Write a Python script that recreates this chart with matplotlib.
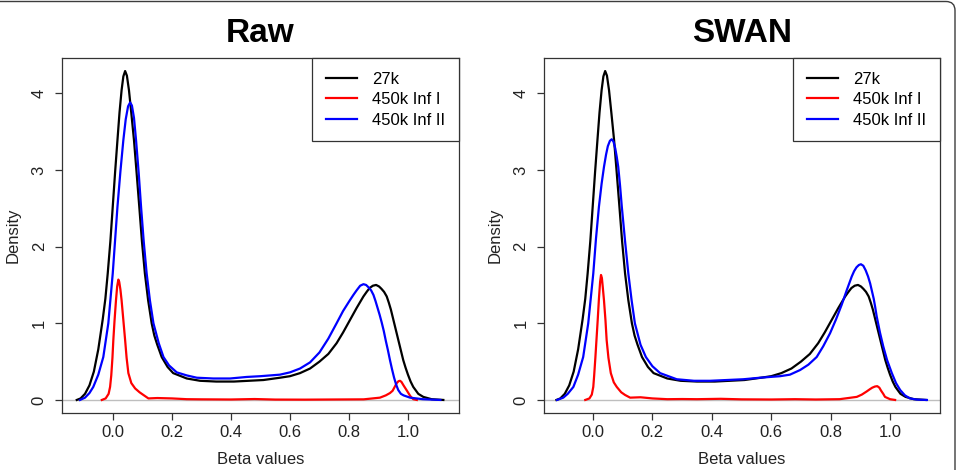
import matplotlib
matplotlib.use("Agg")
import matplotlib.pyplot as plt
from matplotlib.patches import FancyBboxPatch

plt.rcParams['font.family'] = ['Liberation Sans', 'DejaVu Sans']

# --- densities (beta value, density) ---
x_27k = [-0.123, -0.110, -0.095, -0.080, -0.065, -0.050, -0.035, -0.026, -0.018, -0.009,
         -0.001, 0.007, 0.015, 0.022, 0.029, 0.035, 0.041, 0.047, 0.054, 0.062,
         0.071, 0.080, 0.089, 0.098, 0.108, 0.119, 0.131, 0.140, 0.150, 0.165,
         0.185, 0.204, 0.25, 0.295, 0.35, 0.41, 0.46, 0.51, 0.566, 0.60,
         0.634, 0.668, 0.70, 0.73, 0.758, 0.78, 0.803, 0.826, 0.849, 0.860,
         0.870, 0.881, 0.892, 0.902, 0.910, 0.919, 0.928, 0.935, 0.942, 0.949,
         0.956, 0.963, 0.970, 0.977, 0.984, 0.992, 1.000, 1.009, 1.018, 1.035,
         1.052, 1.08, 1.12]
y_27k = [0.00, 0.02, 0.08, 0.19, 0.37, 0.66, 1.05, 1.32, 1.65, 2.07,
         2.52, 2.97, 3.39, 3.75, 4.04, 4.22, 4.29, 4.23, 4.04, 3.74,
         3.39, 2.96, 2.52, 2.07, 1.65, 1.30, 1.00, 0.84, 0.72, 0.56,
         0.43, 0.35, 0.28, 0.25, 0.24, 0.24, 0.25, 0.26, 0.29, 0.31,
         0.35, 0.41, 0.50, 0.60, 0.74, 0.88, 1.04, 1.20, 1.35, 1.41,
         1.46, 1.49, 1.50, 1.48, 1.45, 1.41, 1.35, 1.27, 1.18, 1.07,
         0.96, 0.85, 0.74, 0.63, 0.52, 0.42, 0.33, 0.24, 0.17, 0.08,
         0.04, 0.01, 0.00]

x_raw_inf1 = [-0.038, -0.025, -0.015, -0.010, -0.006, -0.002, 0.001, 0.005, 0.010, 0.014,
              0.018, 0.021, 0.025, 0.029, 0.035, 0.041, 0.046, 0.052, 0.062, 0.075,
              0.090, 0.103, 0.12, 0.15, 0.20, 0.25, 0.30, 0.40, 0.48, 0.55,
              0.65, 0.75, 0.85, 0.905, 0.925, 0.939, 0.948, 0.955, 0.962, 0.968,
              0.973, 0.978, 0.985, 0.995, 1.008, 1.018, 1.03]
y_raw_inf1 = [0.00, 0.02, 0.08, 0.17, 0.32, 0.55, 0.78, 1.03, 1.30, 1.48,
              1.57, 1.54, 1.44, 1.30, 1.04, 0.78, 0.55, 0.35, 0.22, 0.15,
              0.10, 0.065, 0.02, 0.025, 0.02, 0.01, 0.008, 0.006, 0.012, 0.005,
              0.004, 0.006, 0.008, 0.03, 0.06, 0.09, 0.12, 0.17, 0.22, 0.245,
              0.25, 0.235, 0.19, 0.13, 0.05, 0.01, 0.00]

x_raw_inf2 = [-0.112, -0.095, -0.080, -0.067, -0.050, -0.033, -0.016, -0.001, 0.015, 0.025,
              0.035, 0.043, 0.051, 0.058, 0.064, 0.071, 0.078, 0.087, 0.095, 0.104,
              0.114, 0.125, 0.137, 0.155, 0.171, 0.19, 0.216, 0.25, 0.284, 0.34,
              0.397, 0.453, 0.50, 0.566, 0.60, 0.634, 0.668, 0.70, 0.73, 0.758,
              0.78, 0.803, 0.815, 0.826, 0.838, 0.849, 0.858, 0.866, 0.875, 0.883,
              0.890, 0.897, 0.904, 0.911, 0.918, 0.925, 0.932, 0.939, 0.946, 0.953,
              0.960, 0.967, 0.976, 0.985, 1.007, 1.05, 1.11]
y_raw_inf2 = [0.00, 0.03, 0.09, 0.17, 0.33, 0.56, 1.00, 1.65, 2.52, 2.98,
              3.39, 3.66, 3.83, 3.88, 3.84, 3.68, 3.39, 2.96, 2.52, 2.07,
              1.65, 1.30, 1.00, 0.74, 0.56, 0.45, 0.36, 0.32, 0.29, 0.28,
              0.28, 0.30, 0.31, 0.33, 0.36, 0.41, 0.49, 0.62, 0.80, 1.00,
              1.16, 1.30, 1.37, 1.43, 1.49, 1.51, 1.50, 1.47, 1.43, 1.37,
              1.29, 1.20, 1.11, 1.01, 0.90, 0.77, 0.65, 0.52, 0.40, 0.29,
              0.20, 0.13, 0.08, 0.06, 0.03, 0.01, 0.00]

x_swan_inf1 = [-0.026, -0.012, -0.004, 0.001, 0.004, 0.008, 0.012, 0.016, 0.020, 0.024,
               0.027, 0.030, 0.033, 0.037, 0.042, 0.046, 0.052, 0.060, 0.070, 0.080,
               0.095, 0.108, 0.125, 0.16, 0.20, 0.25, 0.30, 0.35, 0.43, 0.50,
               0.60, 0.68, 0.75, 0.83, 0.888, 0.905, 0.921, 0.932, 0.940, 0.949,
               0.957, 0.964, 0.970, 0.977, 0.983, 1.000, 1.017]
y_swan_inf1 = [0.00, 0.02, 0.07, 0.17, 0.32, 0.55, 0.80, 1.05, 1.32, 1.54,
               1.63, 1.59, 1.47, 1.30, 1.04, 0.78, 0.55, 0.35, 0.23, 0.17,
               0.10, 0.065, 0.03, 0.035, 0.02, 0.01, 0.012, 0.01, 0.015, 0.008,
               0.006, 0.01, 0.006, 0.01, 0.04, 0.07, 0.11, 0.14, 0.16, 0.175,
               0.18, 0.16, 0.12, 0.08, 0.04, 0.01, 0.00]

x_swan_inf2 = [-0.121, -0.100, -0.085, -0.066, -0.050, -0.033, -0.016, 0.001, 0.010, 0.020,
               0.029, 0.037, 0.044, 0.050, 0.057, 0.063, 0.069, 0.075, 0.080, 0.085,
               0.091, 0.097, 0.108, 0.119, 0.130, 0.141, 0.160, 0.178, 0.20, 0.226,
               0.282, 0.34, 0.394, 0.45, 0.506, 0.562, 0.630, 0.663, 0.697, 0.725,
               0.753, 0.775, 0.798, 0.818, 0.837, 0.855, 0.871, 0.879, 0.887, 0.895,
               0.902, 0.910, 0.918, 0.926, 0.933, 0.939, 0.945, 0.950, 0.955, 0.966,
               0.977, 0.990, 1.006, 1.020, 1.034, 1.050, 1.067, 1.09, 1.124]
y_swan_inf2 = [0.00, 0.03, 0.08, 0.17, 0.33, 0.56, 1.00, 1.65, 2.10, 2.52,
               2.82, 3.04, 3.20, 3.31, 3.38, 3.40, 3.37, 3.28, 3.17, 3.04,
               2.80, 2.52, 2.07, 1.65, 1.30, 1.00, 0.72, 0.56, 0.44, 0.35,
               0.27, 0.25, 0.25, 0.26, 0.27, 0.29, 0.31, 0.33, 0.39, 0.46,
               0.56, 0.70, 0.87, 1.05, 1.24, 1.44, 1.61, 1.68, 1.73, 1.76,
               1.77, 1.75, 1.69, 1.61, 1.52, 1.42, 1.32, 1.21, 1.09, 0.88,
               0.70, 0.52, 0.35, 0.22, 0.13, 0.06, 0.02, 0.005, 0.00]

series_labels = ["27k", "450k Inf I", "450k Inf II"]
series_colors = ["black", "red", "blue"]
panel_titles = ["Raw", "SWAN"]
x_ticks = [0.0, 0.2, 0.4, 0.6, 0.8, 1.0]
y_ticks = [0, 1, 2, 3, 4]

panels = [
    [(x_27k, y_27k), (x_raw_inf1, y_raw_inf1), (x_raw_inf2, y_raw_inf2)],
    [(x_27k, y_27k), (x_swan_inf1, y_swan_inf1), (x_swan_inf2, y_swan_inf2)],
]

fig = plt.figure(figsize=(9.57, 4.70), dpi=100)

# outer rounded frame (only top and right edges visible in the crop)
frame = FancyBboxPatch((-0.3, -0.3), 9.55 + 0.3, 4.685 + 0.3,
                       boxstyle="round,pad=0,rounding_size=0.09",
                       transform=fig.dpi_scale_trans, fill=False,
                       edgecolor="#3c3c3c", linewidth=1.0)
fig.patches.append(frame)

axes_pos = [[0.0648, 0.1213, 0.4148, 0.7553],
            [0.5681, 0.1213, 0.4141, 0.7553]]
xlims = [(-0.173, 1.173), (-0.166, 1.168)]
dark = "#333333"

for i, (pos, curves) in enumerate(zip(axes_pos, panels)):
    ax = fig.add_axes(pos)
    ax.axhline(0, color="#bebebe", linewidth=1.0, zorder=1)
    for (xs, ys), lab, col in zip(curves, series_labels, series_colors):
        ax.plot(xs, ys, color=col, linewidth=1.6, label=lab, zorder=2,
                solid_joinstyle="round")
    ax.set_xlim(*xlims[i])
    ax.set_ylim(-0.17, 4.46)
    ax.set_xticks(x_ticks)
    ax.set_xticklabels([f"{t:.1f}" for t in x_ticks])
    ax.set_yticks(y_ticks)
    ax.set_yticklabels([str(t) for t in y_ticks], rotation=90, va="center")
    ax.tick_params(direction="out", length=5, width=0.9, color=dark,
                   labelsize=12, labelcolor="#222222")
    ax.tick_params(axis="x", pad=4)
    ax.tick_params(axis="y", pad=6)
    for s in ax.spines.values():
        s.set_color(dark)
        s.set_linewidth(0.9)
    ax.set_xlabel("Beta values", fontsize=12, color="#222222", labelpad=8)
    ax.set_ylabel("Density", fontsize=12, color="#222222", labelpad=8)
    ax.set_title(panel_titles[i], fontsize=24, fontweight="bold", pad=11.5)
    leg = ax.legend(loc="upper right", borderaxespad=0, fancybox=False,
                    fontsize=12, handlelength=1.9, handletextpad=0.9,
                    borderpad=0.82, labelspacing=0.33, framealpha=1)
    leg.get_frame().set_edgecolor(dark)
    leg.get_frame().set_linewidth(0.9)

fig.savefig("out.png", dpi=100)
